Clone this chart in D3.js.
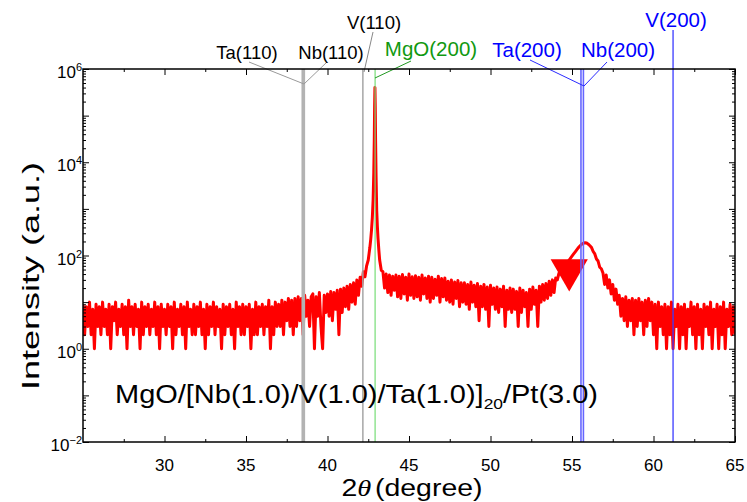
<!DOCTYPE html>
<html>
<head>
<meta charset="utf-8">
<script src="https://cdn.jsdelivr.net/npm/d3@7"></script>
<style>
body { margin: 0; background: #fff; }
text { font-family: "Liberation Sans", Arial, sans-serif; }
</style>
</head>
<body>
<div id="chart"></div>
<script>
// sampling step of the noisy parts of the scan (degree)
var step = 0.1;

// counts, 25.0 - 38.0
var scanA = [9,2,8,3,10,2,7,1,9,3,
             8,2,10,3,7,2,9,1,8,4,
             10,2,7,3,9,2,8,1,11,3,
             8,2,9,3,7,1,10,2,8,3,
             9,2,7,3,10,2,8,1,9,3,
             7,2,9,3,8,1,10,2,7,3,
             9,2,8,1,10,3,7,2,9,2,
             8,3,10,2,7,1,9,2,8,3,
             10,2,8,3,7,1,9,2,8,3,
             9,2,7,1,10,3,8,2,9,2,
             8,3,9,1,7,2,10,2,8,3,
             9,2,8,3,11,1,8,2,10,3,
             9,3,11,2,10,4,12,3,11,2,
             12];
// 38.1 - 42.5
var scanB = [3,13,4,12,2,14,5,11,3,13,
             15,1,13,5,16,3,1,14,6,15,
             5,17,4,16,7,18,2,19,6,20,
             8,22,7,24,10,26,9,30,14,34,
             22,45,35,60,80];
// MgO(200) substrate peak
var mgoTheta  = [42.55,42.6,42.65,42.7,42.75,42.8,42.84,42.87,42.89,42.91,
                 42.93,42.95,42.98,43.02,43.06,43.1,43.15,43.2,43.25,43.3];
var mgoCounts = [110,150,220,350,650,1600,6000,30000,150000,400000,
                 150000,30000,5000,900,420,230,130,80,62,48];
// 43.4 - 54.0
var scanC = [45,20,40,16,38,14,36,18,38,13,
             36,12,39,15,34,11,40,14,35,12,
             37,13,34,11,38,15,33,12,36,10,
             34,12,31,14,36,10,32,13,33,11,
             28,10,30,9,27,12,29,8,26,10,
             26,9,24,7,27,10,23,8,25,4,
             22,8,24,7,21,3,23,9,20,7,
             21,6,19,8,22,3,18,7,20,6,
             19,7,17,3,20,6,18,8,16,3,
             19,7,21,9,18,3,22,10,24,11,
             25,12,28,14,30,16,33];
// 54.1 - 56.8, superlattice (200) peak
var scanD = [30,42,44,50,56,63,70,78,87,97,
             108,120,134,148,162,175,184,188,185,175,
             162,148,122,108,84,76,56,52];
// 56.9 - 65.0
var scanE = [42,24,38,20,30,15,24,11,19,9,
             14,5,12,4,13,3,11,4,12,2,
             11,3,12,4,10,2,11,3,12,4,
             10,2,9,1,10,3,8,2,9,1,
             8,2,10,1,7,3,9,1,8,2,
             9,1,7,3,10,2,8,1,9,2,
             7,1,9,3,8,2,10,1,7,3,
             9,1,8,2,10,1,7,3,9,2,
             8,2];

var xTicks = [30, 35, 40, 45, 50, 55, 60, 65];
var yLabelExp = [-2, 0, 2, 4, 6];

var refNames = ["Ta(110)", "Nb(110)", "V(110)", "MgO(200)", "Ta(200)", "Nb(200)", "V(200)"];
var refTheta = [38.47, 38.56, 42.17, 42.92, 55.55, 55.7, 61.2];

var marker = [54.83, 48.6];

var width = 747, height = 502;
var margin = {top: 69, right: 12, bottom: 60, left: 83};

function seg(start, vals) {
    return vals.map(function(v, i) { return [start + i * step, v]; });
}

var scan = [].concat(
    seg(25.0, scanA),
    seg(38.1, scanB),
    mgoTheta.map(function(t, i) { return [t, mgoCounts[i]]; }),
    seg(43.4, scanC),
    seg(54.1, scanD),
    seg(56.9, scanE));

var svg = d3.select("#chart").append("svg")
    .attr("width", width)
    .attr("height", height);

var x = d3.scaleLinear()
    .domain([25, 65])
    .range([margin.left, width - margin.right]);

var y = d3.scaleLog()
    .domain([1e-2, 1e6])
    .range([height - margin.bottom, margin.top]);

var x0 = x.range()[0], x1 = x.range()[1];
var y0 = y.range()[0], y1 = y.range()[1];

svg.append("clipPath").attr("id", "clip")
    .append("rect")
    .attr("x", x0).attr("y", y1)
    .attr("width", x1 - x0).attr("height", y0 - y1);

// data
var line = d3.line()
    .x(function(d) { return x(d[0]); })
    .y(function(d) { return y(d[1]); });

svg.append("path")
    .datum(scan)
    .attr("clip-path", "url(#clip)")
    .attr("fill", "none")
    .attr("stroke", "#ff0000")
    .attr("stroke-width", 3)
    .attr("stroke-linejoin", "round")
    .attr("d", line);

svg.append("path")
    .attr("d", d3.symbol().type(d3.symbolTriangle).size(600)())
    .attr("transform", "translate(" + x(marker[0]) + "," + y(marker[1]) + ") rotate(180)")
    .attr("fill", "#ff0000");

// reference lines
var refStyle = {
    "Ta(110)":  {stroke: "#b3b3b3", w: 2.2, text: "#000", lead: "#999"},
    "Nb(110)":  {stroke: "#b3b3b3", w: 2.2, text: "#000", lead: "#999"},
    "V(110)":   {stroke: "#a6a6a6", w: 1.5, text: "#000", lead: "#888"},
    "MgO(200)": {stroke: "#77dd77", w: 1.2, text: "#119911", lead: "#229922"},
    "Ta(200)":  {stroke: "#6666ff", w: 1.6, text: "#0000ff", lead: "#2a2aff"},
    "Nb(200)":  {stroke: "#6666ff", w: 1.6, text: "#0000ff", lead: "#2a2aff"},
    "V(200)":   {stroke: "#3a3aff", w: 1.3, text: "#0000ff", lead: "#2a2aff"}
};
// label placement: text centre, baseline, leader start, leader end
var refLabel = {
    "Ta(110)":  {tx: 247, ty: 59, fs: 18.5, lx: 249, ly: 62, ex: 304, ey: 84},
    "Nb(110)":  {tx: 331, ty: 59, fs: 18.5, lx: 327, ly: 62, ex: 304, ey: 84},
    "V(110)":   {tx: 374, ty: 29, fs: 18.5, lx: 373, ly: 32, ex: 364, ey: 72},
    "MgO(200)": {tx: 431, ty: 56, fs: 20.5, lx: 411, ly: 61, ex: 375, ey: 78},
    "Ta(200)":  {tx: 527, ty: 57, fs: 20.5, lx: 530, ly: 60, ex: 584, ey: 86},
    "Nb(200)":  {tx: 618, ty: 57, fs: 20.5, lx: 607, ly: 62, ex: 584, ey: 86},
    "V(200)":   {tx: 676, ty: 27, fs: 20.5}
};

var refs = svg.append("g").attr("class", "refs");

refs.selectAll("line.ref")
    .data(refNames)
    .enter().append("line")
    .attr("class", "ref")
    .attr("x1", function(d, i) { return x(refTheta[i]); })
    .attr("x2", function(d, i) { return x(refTheta[i]); })
    .attr("y1", y0)
    .attr("y2", function(d) { return d === "V(200)" ? 30 : y1; })
    .attr("stroke", function(d) { return refStyle[d].stroke; })
    .attr("stroke-width", function(d) { return refStyle[d].w; });

refs.selectAll("line.lead")
    .data(refNames.filter(function(d) { return refLabel[d].lx; }))
    .enter().append("line")
    .attr("class", "lead")
    .attr("x1", function(d) { return refLabel[d].lx; })
    .attr("y1", function(d) { return refLabel[d].ly; })
    .attr("x2", function(d) { return refLabel[d].ex; })
    .attr("y2", function(d) { return refLabel[d].ey; })
    .attr("stroke", function(d) { return refStyle[d].lead; })
    .attr("stroke-width", 1);

refs.selectAll("text")
    .data(refNames)
    .enter().append("text")
    .attr("x", function(d) { return refLabel[d].tx; })
    .attr("y", function(d) { return refLabel[d].ty; })
    .attr("text-anchor", "middle")
    .attr("font-size", function(d) { return refLabel[d].fs; })
    .attr("fill", function(d) { return refStyle[d].text; })
    .text(function(d) { return d; });

// frame and ticks
var minorX = d3.range(27.5, 65, 5);
var decades = d3.range(-2, 7).map(function(e) { return Math.pow(10, e); });
var minorY = [];
d3.range(-2, 6).forEach(function(e) {
    d3.range(2, 10).forEach(function(k) { minorY.push(k * Math.pow(10, e)); });
});

function ticksOnly(axis) {
    return axis.tickFormat("").tickSizeOuter(0);
}

svg.append("g").attr("transform", "translate(0," + y0 + ")")
    .call(ticksOnly(d3.axisBottom(x).tickValues(xTicks).tickSize(-6)));
svg.append("g").attr("transform", "translate(0," + y0 + ")")
    .call(ticksOnly(d3.axisBottom(x).tickValues(minorX).tickSize(-3)));
svg.append("g").attr("transform", "translate(0," + y1 + ")")
    .call(ticksOnly(d3.axisTop(x).tickValues(xTicks).tickSize(-6)));
svg.append("g").attr("transform", "translate(0," + y1 + ")")
    .call(ticksOnly(d3.axisTop(x).tickValues(minorX).tickSize(-3)));
svg.append("g").attr("transform", "translate(" + x0 + ",0)")
    .call(ticksOnly(d3.axisLeft(y).tickValues(decades).tickSize(-6)));
svg.append("g").attr("transform", "translate(" + x0 + ",0)")
    .call(ticksOnly(d3.axisLeft(y).tickValues(minorY).tickSize(-3)));
svg.append("g").attr("transform", "translate(" + x1 + ",0)")
    .call(ticksOnly(d3.axisRight(y).tickValues(decades).tickSize(-6)));
svg.append("g").attr("transform", "translate(" + x1 + ",0)")
    .call(ticksOnly(d3.axisRight(y).tickValues(minorY).tickSize(-3)));

svg.selectAll(".domain").remove();
svg.selectAll(".tick line").attr("stroke", "#000").attr("stroke-width", 1);

svg.append("rect")
    .attr("x", x0).attr("y", y1)
    .attr("width", x1 - x0).attr("height", y0 - y1)
    .attr("fill", "none")
    .attr("stroke", "#000")
    .attr("stroke-width", 1.5);

// tick labels
svg.append("g").selectAll("text")
    .data(xTicks)
    .enter().append("text")
    .attr("x", function(d) { return x(d); })
    .attr("y", y0 + 29)
    .attr("text-anchor", "middle")
    .attr("font-size", 17)
    .text(function(d) { return d; });

var yl = svg.append("g").selectAll("text")
    .data(yLabelExp)
    .enter().append("text")
    .attr("x", x0 - 1)
    .attr("y", function(d) { return y(Math.pow(10, d)) + 9; })
    .attr("text-anchor", "end")
    .attr("font-size", 17);
yl.append("tspan").text("10");
yl.append("tspan")
    .attr("dy", -7)
    .attr("font-size", 11)
    .text(function(d) { return d < 0 ? "\u2212" + (-d) : d; });

// axis titles
var xt = svg.append("text")
    .attr("x", 412)
    .attr("y", 496)
    .attr("text-anchor", "middle")
    .attr("font-size", 23)
    .attr("textLength", 141)
    .attr("lengthAdjust", "spacingAndGlyphs");
xt.append("tspan").text("2");
xt.append("tspan").attr("font-family", "Liberation Serif").attr("font-style", "italic").text("\u03b8");
xt.append("tspan").attr("dx", 3).text("(degree)");

svg.append("text")
    .attr("transform", "translate(39,276) rotate(-90)")
    .attr("text-anchor", "middle")
    .attr("font-size", 24)
    .attr("textLength", 228)
    .attr("lengthAdjust", "spacingAndGlyphs")
    .text("Intensity (a.u.)");

// sample label
var st = svg.append("text")
    .attr("x", 115)
    .attr("y", 403)
    .attr("font-size", 25)
    .attr("textLength", 483)
    .attr("lengthAdjust", "spacingAndGlyphs");
st.append("tspan").text("MgO/[Nb(1.0)/V(1.0)/Ta(1.0)]");
st.append("tspan").attr("font-size", 15).attr("dy", 6).text("20");
st.append("tspan").attr("dy", -6).text("/Pt(3.0)");
</script>
</body>
</html>
